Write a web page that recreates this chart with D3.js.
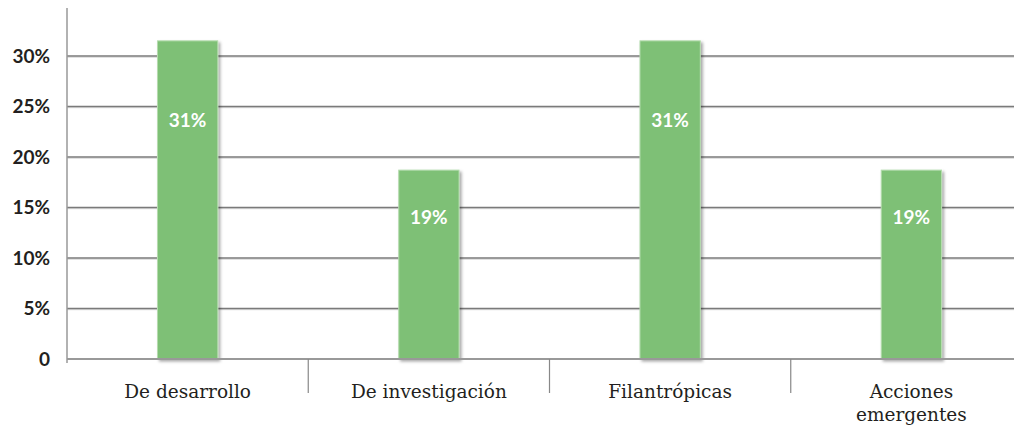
<!doctype html>
<html>
<head>
    <meta charset="utf-8">
    <script src="https://cdnjs.cloudflare.com/ajax/libs/d3/7.8.5/d3.min.js"></script>
    <style>
        body { margin: 0; background: #fff; }
        .ytick { font-family: Lato, sans-serif; font-weight: 700; font-size: 19px; fill: #231f20; }
        .xlab { font-family: "DejaVu Serif", serif; font-size: 18.5px; fill: #231f20; }
        .blab { font-family: Lato, sans-serif; font-weight: 700; font-size: 19px; fill: #fff; }
    </style>
</head>
<body>
    <div id="viz"></div>
    <script>
        // data
        var categories = ["De desarrollo", "De investigación", "Filantrópicas", "Acciones emergentes"];
        var values = [31.5, 18.7, 31.5, 18.7];
        var valueLabels = ["31%", "19%", "31%", "19%"];
        var yTicks = [0, 5, 10, 15, 20, 25, 30];

        var width = 1014, height = 433;
        var margin = { left: 67, top: 8, axisY: 359, top30: 56 };

        var svg = d3.select("#viz").append("svg")
            .attr("width", width)
            .attr("height", height);

        var defs = svg.append("defs");
        var f = defs.append("filter").attr("id", "shadow")
            .attr("x", "-20%").attr("y", "-5%").attr("width", "150%").attr("height", "120%");
        f.append("feDropShadow")
            .attr("dx", 2).attr("dy", 2).attr("stdDeviation", 1.6)
            .attr("flood-color", "#000").attr("flood-opacity", 0.35);

        var x = d3.scaleBand()
            .domain(categories)
            .range([margin.left, 1032])
            .paddingInner(0.75)
            .paddingOuter(0.375);

        var y = d3.scaleLinear()
            .domain([0, 30])
            .range([margin.axisY, margin.top30]);

        // gridlines
        var grid = svg.append("g");
        grid.selectAll("line.shade")
            .data(yTicks.filter(d => d > 0))
            .enter().append("line")
            .attr("x1", margin.left).attr("x2", width)
            .attr("y1", d => y(d) + 1.2).attr("y2", d => y(d) + 1.2)
            .attr("stroke", "#d4d4d4").attr("stroke-width", 1);
        grid.selectAll("line.main")
            .data(yTicks.filter(d => d > 0))
            .enter().append("line")
            .attr("x1", margin.left).attr("x2", width)
            .attr("y1", d => y(d)).attr("y2", d => y(d))
            .attr("stroke", "#7a7a7a").attr("stroke-width", 1.3);

        // y tick labels
        svg.append("g").selectAll("text")
            .data(yTicks)
            .enter().append("text")
            .attr("class", "ytick")
            .attr("x", 50)
            .attr("y", d => y(d))
            .attr("dy", "0.36em")
            .attr("text-anchor", "end")
            .text(d => d === 0 ? "0" : d + "%");

        // bars
        svg.append("g").selectAll("rect")
            .data(values)
            .enter().append("rect")
            .attr("x", (d, i) => x(categories[i]))
            .attr("y", d => y(d))
            .attr("width", x.bandwidth())
            .attr("height", d => y(0) - y(d))
            .attr("fill", "#7ec076")
            .attr("stroke", "#b5dcae")
            .attr("stroke-width", 1)
            .attr("filter", "url(#shadow)");

        // bar labels
        svg.append("g").selectAll("text")
            .data(values)
            .enter().append("text")
            .attr("class", "blab")
            .attr("x", (d, i) => x(categories[i]) + x.bandwidth() / 2)
            .attr("y", d => y(d * 0.75))
            .attr("dy", "0.36em")
            .attr("text-anchor", "middle")
            .text((d, i) => valueLabels[i]);

        // axes lines
        svg.append("line")
            .attr("x1", margin.left).attr("x2", width)
            .attr("y1", y(0)).attr("y2", y(0))
            .attr("stroke", "#999").attr("stroke-width", 2);
        svg.append("line")
            .attr("x1", margin.left).attr("x2", margin.left)
            .attr("y1", margin.top).attr("y2", y(0) + 4)
            .attr("stroke", "#999").attr("stroke-width", 1.5);

        // category dividers
        svg.append("g").selectAll("line")
            .data(categories.slice(1))
            .enter().append("line")
            .attr("x1", d => x(d) - x.step() * 0.375)
            .attr("x2", d => x(d) - x.step() * 0.375)
            .attr("y1", y(0)).attr("y2", y(0) + 34)
            .attr("stroke", "#888").attr("stroke-width", 1.2);

        // category labels (wrap the long one onto two lines)
        var xl = svg.append("g").selectAll("text")
            .data(categories)
            .enter().append("text")
            .attr("class", "xlab")
            .attr("x", d => x(d) + x.bandwidth() / 2)
            .attr("y", 398)
            .attr("text-anchor", "middle");
        xl.each(function (d) {
            var words = d.split(" ");
            var t = d3.select(this);
            if (d.length > 17) {
                words.forEach(function (w, k) {
                    t.append("tspan")
                        .attr("x", x(d) + x.bandwidth() / 2)
                        .attr("dy", k === 0 ? 0 : 23)
                        .text(w);
                });
            } else {
                t.text(d);
            }
        });
    </script>
</body>
</html>
